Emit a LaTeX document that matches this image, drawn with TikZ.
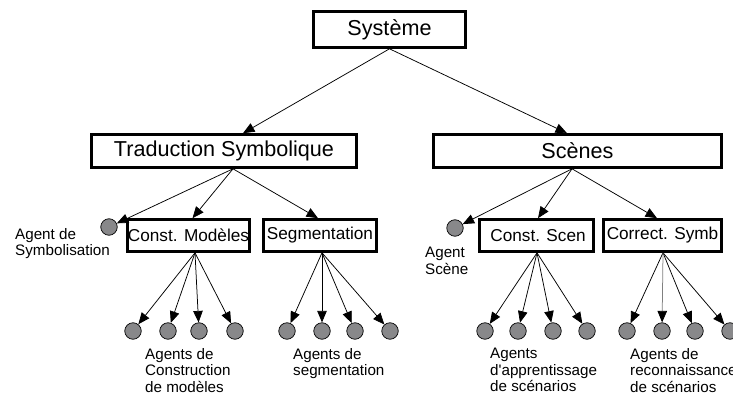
\documentclass[tikz,border=0pt]{standalone}
\usepackage{fontspec}
\setmainfont{Liberation Sans}
\usetikzlibrary{arrows.meta}
\definecolor{agentgray}{RGB}{136,136,138}
\begin{document}
\begin{tikzpicture}[x=1pt,y=-1pt,
  bigbox/.style={draw,line width=2.6pt,inner sep=0,font=\fontsize{21.6}{24}\selectfont},
  subbox/.style={draw,line width=2.6pt,inner sep=0,minimum height=32pt,font=\fontsize{17.2}{20}\selectfont},
  agent/.style={circle,draw,line width=0.7pt,fill=agentgray,minimum size=16.5pt,inner sep=0},
  link/.style={line width=0.75pt,-{Triangle[length=11.5pt,width=9.5pt]}},
  lbl/.style={anchor=north west,inner sep=0,align=left,font=\fontsize{15.2}{16.6}\selectfont}]
\useasboundingbox (0,0) rectangle (733,396);
% boxes
\node[bigbox,minimum width=152pt,minimum height=36pt] (sys) at (389.5,29.5) {Système};
\node[bigbox,minimum width=265pt,minimum height=33pt] (trad) at (224,151) {Traduction Symbolique};
\node[bigbox,minimum width=288pt,minimum height=33pt] (scenes) at (577.5,151) {Scènes};
\node[subbox,minimum width=122pt] (cm) at (188.5,235.5) {Const. Modèles};
\node[subbox,minimum width=113pt] (seg) at (320,235.5) {Segmentation};
\node[subbox,minimum width=114pt] (cs) at (536.5,235.5) {\hspace*{3pt}Const. Scen};
\node[subbox,minimum width=118pt] (csy) at (662.5,235.5) {Correct. Symb};
% single agents
\node[agent] (agsym) at (109,227) {};
\node[agent] (agsc) at (455,228) {};
\node[lbl,font=\fontsize{15.2}{15.8}\selectfont] (lsym) at (15,228) {Agent de\\Symbolisation};
\node[lbl,font=\fontsize{15.2}{17}\selectfont] (lsc) at (425,247) {Agent\\Scène};
% bottom agents
\foreach \n/\x in {a1/133,a2/168,a3/199,a4/235,b1/287,b2/322,b3/355,b4/390,c1/485,c2/518,c3/553,c4/587,d1/627,d2/662,d3/695,d4/730}
  \node[agent] (\n) at (\x,331) {};
% labels
\node[lbl] (la) at (145,348) {Agents de\\Construction\\de modèles};
\node[lbl] (lb) at (293,348) {Agents de\\segmentation};
\node[lbl] (lc) at (490,348) {Agents\\d\textquotesingle apprentissage\\de scénarios};
\node[lbl] (ld) at (630,348) {Agents de\\reconnaissance\\de scénarios};
% fan origins
\coordinate (tO) at ([xshift=9pt]trad.south);
\coordinate (sO) at ([xshift=-5.5pt]scenes.south);
\coordinate (cmO) at ([xshift=6.5pt]cm.south);
\coordinate (segO) at ([xshift=2pt]seg.south);
\coordinate (csO) at ([xshift=0.5pt]cs.south);
\coordinate (csyO) at ([xshift=0.5pt]csy.south);
% connectors
\draw[link] (sys.south) -- ([xshift=19pt]trad.north);
\draw[link] (sys.south) -- ([xshift=-10.5pt]scenes.north);
\draw[link] (tO) -- (agsym);
\draw[link] (tO) -- ([xshift=4pt]cm.north);
\draw[link] (tO) -- ([xshift=-2pt]seg.north);
\draw[link] (sO) -- (agsc);
\draw[link] (sO) -- ([xshift=1.5pt]cs.north);
\draw[link] (sO) -- ([xshift=-5.5pt]csy.north);
\foreach \n in {a1,a2,a3,a4} \draw[link] (cmO) -- (\n);
\foreach \n in {b1,b2,b3,b4} \draw[link] (segO) -- (\n);
\foreach \n in {c1,c2,c3,c4} \draw[link] (csO) -- (\n);
\foreach \n in {d1,d3,d4} \draw[link] (csyO) -- (\n);
\draw[link,draw=gray,-{Triangle[length=11.5pt,width=9.5pt,color=black]}] (csyO) -- (d2);
\end{tikzpicture}
\end{document}
